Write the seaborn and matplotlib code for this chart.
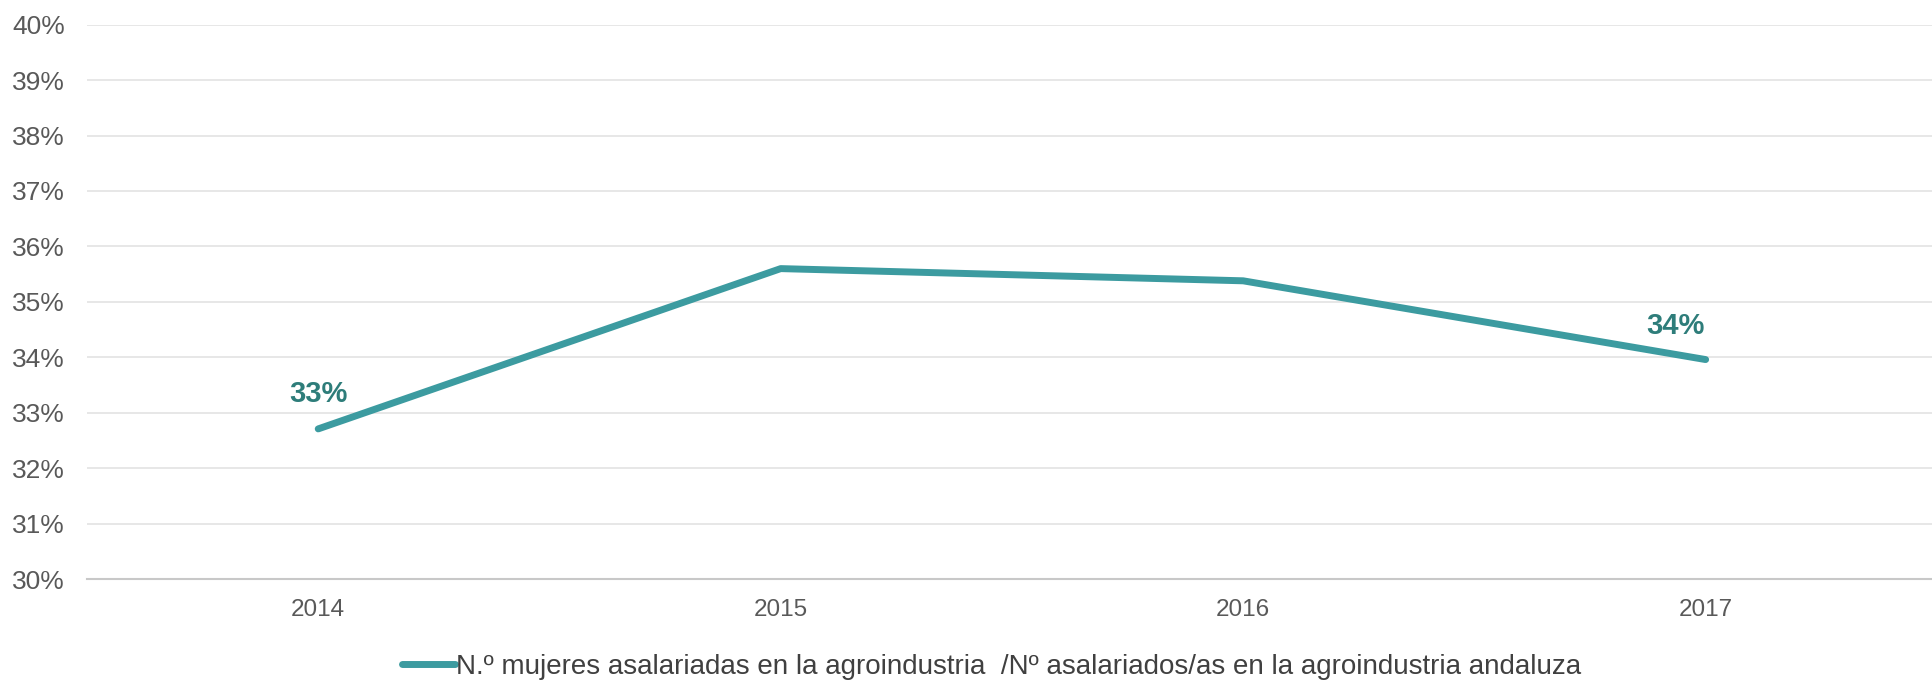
import numpy as np
import pandas as pd
import matplotlib.pyplot as plt
import matplotlib.ticker as mticker
import seaborn as sns

# Data
years = ['2014', '2015', '2016', '2017']
share = [0.3271, 0.3560, 0.3538, 0.3396]
label_text = ['33%', '', '', '34%']
series_name = 'N.º mujeres asalariadas en la agroindustria  /Nº asalariados/as en la agroindustria andaluza'

df = pd.DataFrame({'year': years, 'share': share})

sns.set_theme(style='white')
plt.rcParams['font.family'] = ['Liberation Sans', 'DejaVu Sans']

line_color = '#3C9BA0'
label_color = '#2E7D7A'
text_gray = '#595959'

fig = plt.figure(figsize=(19.33, 6.83), dpi=100)
ax = fig.add_axes([0.045, 0.152, 0.957, 0.812])

sns.lineplot(data=df, x='year', y='share', sort=False, color=line_color,
             linewidth=5, solid_capstyle='round', label=series_name, ax=ax,
             legend=False)

# Data labels on first and last point
ax.annotate(label_text[0], (0, share[0]), xytext=(0, 25), textcoords='offset points',
            ha='center', va='center', fontsize=21, fontweight='bold', color=label_color)
ax.annotate(label_text[3], (3, share[3]), xytext=(-22, 24), textcoords='offset points',
            ha='center', va='center', fontsize=21, fontweight='bold', color=label_color)

ax.set_xlim(-0.5, 3.5)
ax.set_ylim(0.30, 0.40)
ax.set_yticks(np.arange(0.30, 0.4001, 0.01))
ax.yaxis.set_major_formatter(mticker.PercentFormatter(1.0, decimals=0))
ax.grid(axis='y', color='#E3E3E3', linewidth=1.2)
ax.set_axisbelow(True)

for side in ['top', 'right', 'left']:
    ax.spines[side].set_visible(False)
ax.spines['bottom'].set_color('#C8C8C8')
ax.spines['bottom'].set_linewidth(1.5)

ax.tick_params(axis='y', length=0, pad=16, labelsize=19, labelcolor=text_gray)
ax.tick_params(axis='x', length=0, pad=14, labelsize=17.5, labelcolor=text_gray)
ax.set_xlabel('')
ax.set_ylabel('')

fig.legend(handles=ax.get_lines()[:1], labels=[series_name], loc='center',
           bbox_to_anchor=(0.513, 0.024), frameon=False, fontsize=20,
           handlelength=1.9, handletextpad=0.05, labelcolor='#404040')

fig.savefig('out.png', dpi=100, facecolor='white')
